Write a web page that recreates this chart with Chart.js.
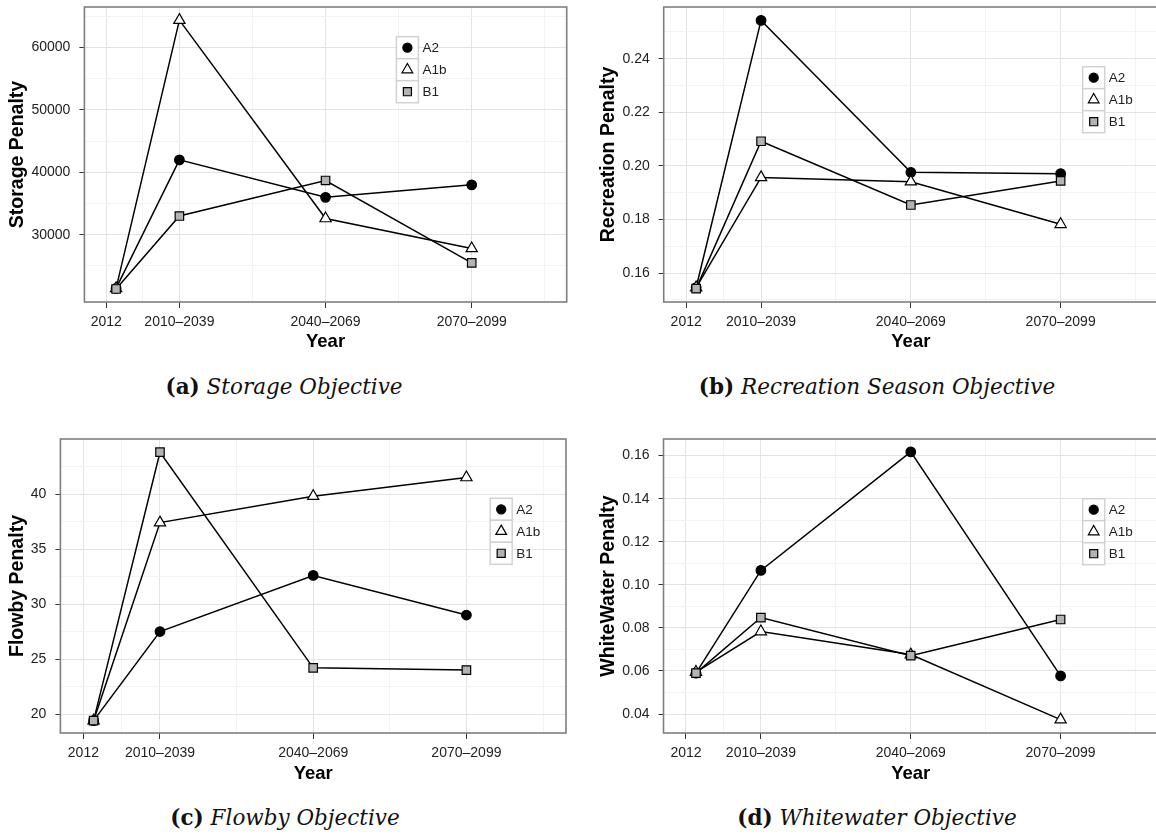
<!DOCTYPE html>
<html>
<head>
<meta charset="utf-8">
<script src="https://cdn.jsdelivr.net/npm/chart.js@4.4.1/dist/chart.umd.min.js"></script>
<style>
  html, body { margin: 0; padding: 0; background: #fff; width: 1156px; height: 835px; overflow: hidden; }
  .panel { position: absolute; }
  .cap { position: absolute; width: 560px; text-align: center; font-family: 'DejaVu Serif', serif;
         font-size: 21.5px; line-height: 28px; color: #111; white-space: nowrap; }
  .cap b { font-weight: bold; font-style: normal; }
  .cap i { font-style: italic; }
</style>
</head>
<body>
<div class="panel" id="pa" style="left:0;top:0;width:568px;height:354px"><canvas id="ca"></canvas></div>
<div class="panel" id="pb" style="left:590px;top:0;width:570px;height:354px"><canvas id="cb"></canvas></div>
<div class="panel" id="pc" style="left:0;top:432px;width:568px;height:354px"><canvas id="cc"></canvas></div>
<div class="panel" id="pd" style="left:590px;top:432px;width:570px;height:354px"><canvas id="cd"></canvas></div>

<div class="cap" style="left:4px;top:373px"><b>(a)</b> <i>Storage Objective</i></div>
<div class="cap" style="left:597px;top:373px"><b>(b)</b> <i>Recreation Season Objective</i></div>
<div class="cap" style="left:5px;top:804px"><b>(c)</b> <i>Flowby Objective</i></div>
<div class="cap" style="left:597px;top:804px"><b>(d)</b> <i>Whitewater Objective</i></div>

<script>
// x positions (2012, then the three 30-year periods)
const xYears = [2012, 2025, 2055, 2085];
const xTickYears = [2010, 2025, 2055, 2085];
const xTickLabels = ['2012', '2010–2039', '2040–2069', '2070–2099'];
const xMinorYears = [2017.5, 2040, 2070, 2100];
const seriesNames = ['A2', 'A1b', 'B1'];

// (a) storage
const storageA2 = [21400, 42000, 36000, 38000];
const storageA1b = [21400, 64400, 32600, 27800];
const storageB1 = [21300, 33000, 38700, 25500];
const storageTicks = [30000, 40000, 50000, 60000];
const storageMinor = [25000, 35000, 45000, 55000, 65000];

// (b) recreation season
const recreationA2 = [0.1546, 0.2543, 0.1976, 0.1971];
const recreationA1b = [0.1546, 0.1957, 0.1941, 0.1782];
const recreationB1 = [0.1542, 0.2092, 0.1854, 0.1944];
const recreationTicks = [0.16, 0.18, 0.20, 0.22, 0.24];
const recreationMinor = [0.15, 0.17, 0.19, 0.21, 0.23, 0.25];

// (c) flowby
const flowbyA2 = [19.4, 27.5, 32.6, 29.0];
const flowbyA1b = [19.4, 37.4, 39.8, 41.5];
const flowbyB1 = [19.4, 43.8, 24.2, 24.0];
const flowbyTicks = [20, 25, 30, 35, 40];
const flowbyMinor = [22.5, 27.5, 32.5, 37.5, 42.5];

// (d) whitewater
const whitewaterA2 = [0.059, 0.1067, 0.1617, 0.0577];
const whitewaterA1b = [0.0595, 0.0783, 0.0676, 0.0374];
const whitewaterB1 = [0.059, 0.0848, 0.0671, 0.0839];
const whitewaterTicks = [0.04, 0.06, 0.08, 0.10, 0.12, 0.14, 0.16];
const whitewaterMinor = [0.05, 0.07, 0.09, 0.11, 0.13, 0.15];

Chart.defaults.font.family = '"Liberation Sans", Arial, sans-serif';

const isIn = (arr, v) => arr.some(m => Math.abs(m - v) < 1e-9);

// panel border on top of the plot area
const panelBorder = {
  id: 'panelBorder',
  afterDatasetsDraw(chart) {
    const a = chart.chartArea, ctx = chart.ctx;
    ctx.save();
    ctx.strokeStyle = '#7f7f7f';
    ctx.lineWidth = 1.6;
    ctx.strokeRect(a.left, a.top, a.right - a.left, a.bottom - a.top);
    ctx.restore();
  }
};

// ggplot-style legend with boxed keys, inside the panel
const keyLegend = {
  id: 'keyLegend',
  afterDraw(chart, args, opts) {
    const ctx = chart.ctx, a = chart.chartArea;
    const x0 = a.left + opts.dx, y0 = a.top + opts.dy, s = 22;
    chart.data.datasets.forEach((ds, i) => {
      const y = y0 + i * s;
      ctx.save();
      ctx.fillStyle = '#fff';
      ctx.fillRect(x0, y, s, s);
      ctx.strokeStyle = '#d2d2d2';
      ctx.lineWidth = 1.5;
      ctx.strokeRect(x0, y, s, s);
      ctx.fillStyle = ds.pointBackgroundColor;
      ctx.strokeStyle = ds.pointBorderColor;
      ctx.lineWidth = ds.pointBorderWidth;
      Chart.helpers.drawPoint(ctx, {
        pointStyle: ds.pointStyle, radius: ds.pointRadius * 0.95,
        rotation: 0, borderWidth: ds.pointBorderWidth
      }, x0 + s / 2, y + s / 2);
      ctx.fillStyle = '#222';
      ctx.font = '13.5px "Liberation Sans", Arial, sans-serif';
      ctx.textBaseline = 'middle';
      ctx.textAlign = 'left';
      ctx.fillText(ds.label, x0 + s + 4, y + s / 2 + 0.5);
      ctx.restore();
    });
  }
};

function series(vals) {
  return xYears.map((x, i) => ({ x: x, y: vals[i] }));
}

function makePanel(id, cfg) {
  const styles = [
    { pointStyle: 'circle', pointRadius: 4.8, pointBackgroundColor: '#000', order: 2 },
    { pointStyle: 'triangle', pointRadius: 6.5, pointBackgroundColor: '#fff', order: 1 },
    { pointStyle: 'rect', pointRadius: 6, pointBackgroundColor: '#b3b3b3', order: 0 }
  ];
  const datasets = cfg.values.map((vals, i) => Object.assign({
    label: seriesNames[i],
    data: series(vals),
    showLine: true,
    borderColor: '#000',
    borderWidth: 1.5,
    pointBorderColor: '#000',
    pointBorderWidth: 1.2,
    pointHoverRadius: 0
  }, styles[i]));

  const yAll = cfg.ticks.concat(cfg.minor).sort((p, q) => p - q);
  const xAll = xTickYears.concat(xMinorYears).sort((p, q) => p - q);
  const noPad = s => { s.paddingTop = 0; s.paddingBottom = 0; s.paddingLeft = 0; s.paddingRight = 0; };

  return new Chart(document.getElementById(id), {
    type: 'scatter',
    data: { datasets: datasets },
    options: {
      responsive: true,
      maintainAspectRatio: false,
      animation: false,
      events: [],
      layout: { autoPadding: false, padding: { top: 7, right: cfg.padRight, left: 0, bottom: 0 } },
      plugins: {
        legend: { display: false },
        tooltip: { enabled: false },
        keyLegend: { dx: cfg.legendDx, dy: cfg.legendDy }
      },
      scales: {
        x: {
          type: 'linear',
          min: 2005.5,
          max: 2104.5,
          afterBuildTicks: s => { s.ticks = xAll.map(v => ({ value: v })); },
          afterFit: s => { s.height = cfg.xHeight; noPad(s); },
          border: { display: false },
          grid: {
            color: c => isIn(xTickYears, c.tick.value) ? '#e3e3e3' : '#f3f3f3',
            tickColor: c => isIn(xTickYears, c.tick.value) ? '#333' : 'rgba(0,0,0,0)',
            tickLength: 6,
            lineWidth: 1
          },
          ticks: {
            autoSkip: false,
            maxRotation: 0,
            padding: 6,
            color: '#222',
            font: { size: 14 },
            callback: v => {
              const k = xTickYears.findIndex(t => Math.abs(t - v) < 1e-9);
              return k >= 0 ? xTickLabels[k] : '';
            }
          },
          title: {
            display: true,
            text: 'Year',
            color: '#000',
            font: { size: 18.5, weight: 'bold' },
            padding: { top: 0, bottom: 1.4 }
          }
        },
        y: {
          type: 'linear',
          min: cfg.yMin,
          max: cfg.yMax,
          afterBuildTicks: s => { s.ticks = yAll.map(v => ({ value: v })); },
          afterFit: s => { s.width = cfg.yWidth; noPad(s); },
          border: { display: false },
          grid: {
            color: c => isIn(cfg.ticks, c.tick.value) ? '#e3e3e3' : '#f3f3f3',
            tickColor: c => isIn(cfg.ticks, c.tick.value) ? '#333' : 'rgba(0,0,0,0)',
            tickLength: 5,
            lineWidth: 1
          },
          ticks: {
            autoSkip: false,
            padding: 9,
            color: '#222',
            font: { size: 14 },
            callback: v => isIn(cfg.ticks, v) ? cfg.fmt(v) : ''
          },
          title: {
            display: true,
            text: cfg.yTitle,
            color: '#000',
            font: { size: 19.5, weight: 'bold' },
            padding: { top: cfg.yTitlePad, bottom: 0 }
          }
        }
      }
    },
    plugins: [panelBorder, keyLegend]
  });
}

makePanel('ca', {
  values: [storageA2, storageA1b, storageB1],
  ticks: storageTicks, minor: storageMinor,
  yMin: 19216, yMax: 66512, fmt: v => String(Math.round(v)),
  yTitle: 'Storage Penalty', yWidth: 84.4, yTitlePad: 6.1, padRight: 1.3, xHeight: 52,
  legendDx: 312, legendDy: 29.7
});

makePanel('cb', {
  values: [recreationA2, recreationA1b, recreationB1],
  ticks: recreationTicks, minor: recreationMinor,
  yMin: 0.1492, yMax: 0.2593, fmt: v => v.toFixed(2),
  yTitle: 'Recreation Penalty', yWidth: 73.7, yTitlePad: 7, padRight: 2, xHeight: 52,
  legendDx: 419, legendDy: 59.7
});

makePanel('cc', {
  values: [flowbyA2, flowbyA1b, flowbyB1],
  ticks: flowbyTicks, minor: flowbyMinor,
  yMin: 18.28, yMax: 45.0, fmt: v => String(Math.round(v)),
  yTitle: 'Flowby Penalty', yWidth: 60.4, yTitlePad: 5.8, padRight: 2, xHeight: 53,
  legendDx: 429.8, legendDy: 59.3
});

makePanel('cd', {
  values: [whitewaterA2, whitewaterA1b, whitewaterB1],
  ticks: whitewaterTicks, minor: whitewaterMinor,
  yMin: 0.0312, yMax: 0.1677, fmt: v => v.toFixed(2),
  yTitle: 'WhiteWater Penalty', yWidth: 73.5, yTitlePad: 6.5, padRight: 2, xHeight: 53,
  legendDx: 419.2, legendDy: 59.7
});
</script>
</body>
</html>
